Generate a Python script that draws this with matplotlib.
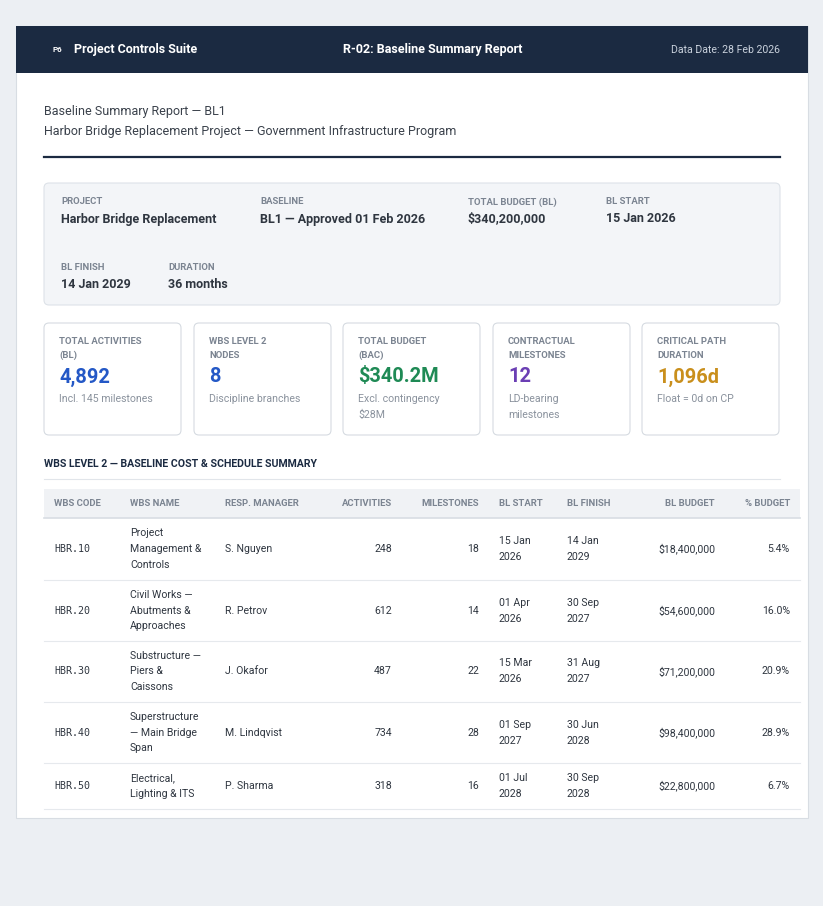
import matplotlib.pyplot as plt
from matplotlib.patches import Rectangle, FancyBboxPatch

plt.rcParams['font.family'] = ['Roboto', 'DejaVu Sans']

# ---- data ----
info_labels = ["PROJECT", "BASELINE", "TOTAL BUDGET (BL)", "BL START", "BL FINISH", "DURATION"]
info_values = ["Harbor Bridge Replacement", "BL1 — Approved 01 Feb 2026", "$340,200,000",
               "15 Jan 2026", "14 Jan 2029", "36 months"]

kpi_labels = [["TOTAL ACTIVITIES", "(BL)"], ["WBS LEVEL 2", "NODES"], ["TOTAL BUDGET", "(BAC)"],
              ["CONTRACTUAL", "MILESTONES"], ["CRITICAL PATH", "DURATION"]]
kpi_values = ["4,892", "8", "$340.2M", "12", "1,096d"]
kpi_subs = [["Incl. 145 milestones"], ["Discipline branches"], ["Excl. contingency", "$28M"],
            ["LD-bearing", "milestones"], ["Float = 0d on CP"]]
kpi_colors = ["#2458c6", "#2458c6", "#1f8a55", "#6b3fb4", "#c98f1c"]

columns = ["WBS CODE", "WBS NAME", "RESP. MANAGER", "ACTIVITIES", "MILESTONES",
           "BL START", "BL FINISH", "BL BUDGET", "% BUDGET"]
wbs_code = ["HBR.10", "HBR.20", "HBR.30", "HBR.40", "HBR.50"]
wbs_name = [["Project", "Management &", "Controls"], ["Civil Works —", "Abutments &", "Approaches"],
            ["Substructure —", "Piers &", "Caissons"], ["Superstructure", "— Main Bridge", "Span"],
            ["Electrical,", "Lighting & ITS"]]
manager = ["S. Nguyen", "R. Petrov", "J. Okafor", "M. Lindqvist", "P. Sharma"]
activities = [248, 612, 487, 734, 318]
milestones = [18, 14, 22, 28, 16]
bl_start = [["15 Jan", "2026"], ["01 Apr", "2026"], ["15 Mar", "2026"], ["01 Sep", "2027"], ["01 Jul", "2028"]]
bl_finish = [["14 Jan", "2029"], ["30 Sep", "2027"], ["31 Aug", "2027"], ["30 Jun", "2028"], ["30 Sep", "2028"]]
bl_budget = [18400000, 54600000, 71200000, 98400000, 22800000]
pct_budget = [5.4, 16.0, 20.9, 28.9, 6.7]

# ---- figure in pixel coords ----
fig = plt.figure(figsize=(8.23, 9.06), dpi=100)
fig.patch.set_facecolor("#eceff3")
ax = fig.add_axes([0, 0, 1, 1])
ax.set_xlim(0, 823)
ax.set_ylim(906, 0)
ax.axis("off")

def px(s):
    return s * 72 / 100

dark = "#1b2a41"
gray = "#7b8491"
text = "#2f3640"

ax.add_patch(Rectangle((16, 26), 792, 792, fc="white", ec="#d8dde3", lw=0.8))
ax.add_patch(Rectangle((16, 26), 792, 47, fc=dark, ec="none"))
ax.text(53, 50, "P6", color="white", fontsize=px(8), weight="bold", va="center")
ax.text(74, 50, "Project Controls Suite", color="white", fontsize=px(12.5), weight="bold", va="center")
ax.text(433, 50, "R-02: Baseline Summary Report", color="white", fontsize=px(12.5), weight="bold",
        va="center", ha="center")
ax.text(780, 50, "Data Date: 28 Feb 2026", color="#c9d1dc", fontsize=px(10.5), va="center", ha="right")

ax.text(44, 111, "Baseline Summary Report — BL1", color="#3a414b", fontsize=px(12.5), va="center")
ax.text(44, 131, "Harbor Bridge Replacement Project — Government Infrastructure Program",
        color="#3a414b", fontsize=px(12.5), va="center")
ax.plot([44, 780], [157, 157], color=dark, lw=1.6)

# info panel
ax.add_patch(FancyBboxPatch((44, 183), 736, 122, boxstyle="round,pad=0,rounding_size=5",
                            fc="#f3f5f8", ec="#dde2e8", lw=0.8))
info_pos = [(61, 202), (260, 202), (468, 202), (606, 202), (61, 267), (168, 267)]
for (x, y), lab, val in zip(info_pos, info_labels, info_values):
    ax.text(x, y, lab, color=gray, fontsize=px(9.5), weight="bold", va="center")
    ax.text(x, y + 17, val, color=text, fontsize=px(12.5), weight="bold", va="center")

# KPI cards
card_x = [44, 194, 343, 493, 642]
for i, x in enumerate(card_x):
    ax.add_patch(FancyBboxPatch((x, 323), 137, 112, boxstyle="round,pad=0,rounding_size=5",
                                fc="white", ec="#d6dbe1", lw=0.8))
    for j, l in enumerate(kpi_labels[i]):
        ax.text(x + 15, 342 + 13 * j, l, color=gray, fontsize=px(9.5), weight="bold", va="center")
    ax.text(x + 15, 377, kpi_values[i], color=kpi_colors[i], fontsize=px(20), weight="bold", va="center")
    for j, s in enumerate(kpi_subs[i]):
        ax.text(x + 15, 399 + 16 * j, s, color="#8a929d", fontsize=px(10.5), va="center")

# table
ax.text(44, 464, "WBS LEVEL 2 — BASELINE COST & SCHEDULE SUMMARY", color=dark,
        fontsize=px(10.5), weight="bold", va="center")
ax.plot([44, 780], [479, 479], color="#e1e5ea", lw=0.8)
ax.add_patch(Rectangle((44, 489), 756, 29, fc="#f0f2f5", ec="none"))
ax.plot([44, 800], [518, 518], color="#d8dde3", lw=1.2)

col_x = [54, 130, 225, 392, 479, 499, 567, 715, 790]
col_ha = ["left", "left", "left", "right", "right", "left", "left", "right", "right"]
for c, x, ha in zip(columns, col_x, col_ha):
    ax.text(x, 503.5, c, color=gray, fontsize=px(9.5), weight="bold", va="center", ha=ha)

row_top = 518
row_h = [62, 61, 61, 61, 46]
for i in range(len(wbs_code)):
    cy = row_top + row_h[i] / 2
    ax.text(54, cy, wbs_code[i], color=text, fontsize=px(10), va="center", family="DejaVu Sans Mono")
    n = len(wbs_name[i])
    for j, s in enumerate(wbs_name[i]):
        ax.text(130, cy + (j - (n - 1) / 2) * 15.5, s, color=text, fontsize=px(10.5), va="center")
    ax.text(225, cy, manager[i], color=text, fontsize=px(10.5), va="center")
    ax.text(392, cy, str(activities[i]), color=text, fontsize=px(10.5), va="center", ha="right")
    ax.text(479, cy, str(milestones[i]), color=text, fontsize=px(10.5), va="center", ha="right")
    for j in range(2):
        ax.text(499, cy + (j - 0.5) * 16, bl_start[i][j], color=text, fontsize=px(10.5), va="center")
        ax.text(567, cy + (j - 0.5) * 16, bl_finish[i][j], color=text, fontsize=px(10.5), va="center")
    ax.text(715, cy, f"${bl_budget[i]:,}", color=text, fontsize=px(10.5), va="center", ha="right")
    ax.text(790, cy, f"{pct_budget[i]:.1f}%", color=text, fontsize=px(10.5), va="center", ha="right")
    row_top += row_h[i]
    ax.plot([44, 800], [row_top, row_top], color="#e6e9ed", lw=0.8)

fig.savefig("out.png", dpi=100, facecolor=fig.get_facecolor())
